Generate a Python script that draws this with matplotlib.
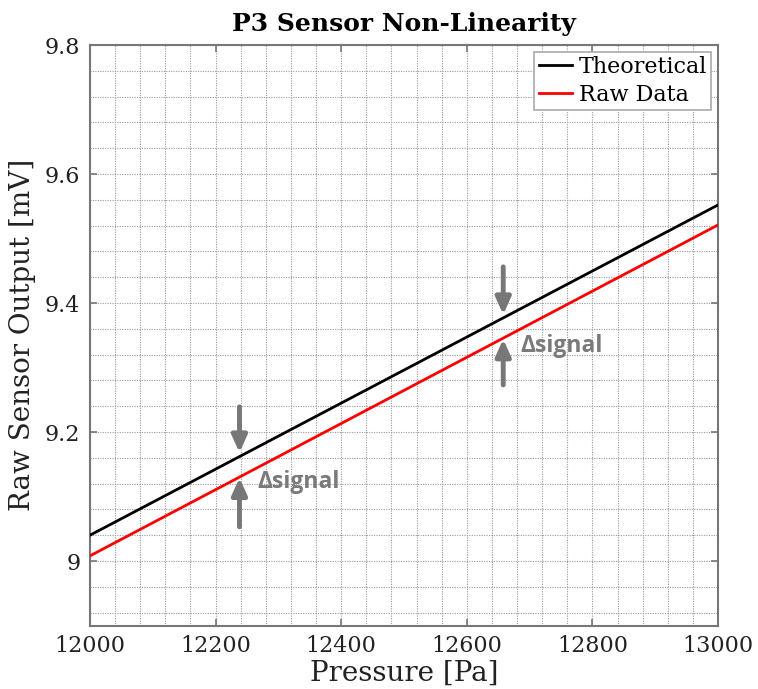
import matplotlib
matplotlib.use("Agg")
import matplotlib.pyplot as plt
from matplotlib.ticker import MultipleLocator
import numpy as np

pressure = [12000, 13000]
theoretical = [9.040, 9.552]
raw_data = [9.008, 9.521]

x_ticks = [12000, 12200, 12400, 12600, 12800, 13000]
y_ticks = [9.0, 9.2, 9.4, 9.6, 9.8]
y_tick_labels = ["9", "9.2", "9.4", "9.6", "9.8"]

# annotation arrows: (x, y_start, y_end)
arrows_down = [(12238, 9.239, 9.168), (12658, 9.456, 9.382)]
arrows_up = [(12238, 9.053, 9.129), (12658, 9.273, 9.344)]
labels_pos = [(12266, 9.123), (12686, 9.333)]

plt.rcParams['font.family'] = ['DejaVu Serif']
fig = plt.figure(figsize=(7.58, 6.89), dpi=100)
ax = fig.add_axes([90/758, 1-625.5/689, 628/758, 580.5/689])

ax.plot(pressure, theoretical, color='black', lw=2, label='Theoretical', zorder=3)
ax.plot(pressure, raw_data, color='red', lw=2, label='Raw Data', zorder=3)

ax.set_xlim(12000, 13000)
ax.set_ylim(8.9, 9.8)
ax.set_xticks(x_ticks)
ax.set_yticks(y_ticks)
ax.set_yticklabels(y_tick_labels)
ax.xaxis.set_minor_locator(MultipleLocator(40))
ax.yaxis.set_minor_locator(MultipleLocator(0.04))
ax.grid(True, which='both', linestyle=(0, (1, 1.2)), color='#999999', lw=0.8, zorder=0)
ax.tick_params(which='major', direction='in', length=5, width=1.2, color='#777777',
               top=True, right=True, labelsize=16, labelcolor='#222222', pad=7)
ax.tick_params(which='minor', length=0)
for s in ax.spines.values():
    s.set_color('#777777')
    s.set_linewidth(1.5)

for (x, y0, y1) in arrows_down + arrows_up:
    ax.annotate('', xy=(x, y1), xytext=(x, y0),
                arrowprops=dict(arrowstyle='-|>,head_width=0.45,head_length=1.0',
                                color='#777777', lw=3.5, shrinkA=0, shrinkB=0),
                zorder=4)
for (x, y) in labels_pos:
    ax.text(x, y, 'Δsignal', fontsize=16.5, fontweight='bold', color='#7a7a7a',
            family=['Open Sans', 'DejaVu Sans'], va='center', ha='left', zorder=4)

ax.set_xlabel('Pressure [Pa]', fontsize=20, color='#222222', labelpad=2)
ax.set_ylabel('Raw Sensor Output [mV]', fontsize=20, color='#222222', labelpad=6)
ax.set_title('P3 Sensor Non-Linearity', fontsize=18, fontweight='bold', pad=10)

leg = ax.legend(loc='upper right', fontsize=16, frameon=True, fancybox=False,
                handlelength=1.5, handletextpad=0.3, borderpad=0.2, labelspacing=0.25,
                borderaxespad=0.3)
leg.get_frame().set_edgecolor('#aaaaaa')
leg.get_frame().set_linewidth(1.2)
leg.get_frame().set_alpha(1)

fig.savefig('out.png', dpi=100)
